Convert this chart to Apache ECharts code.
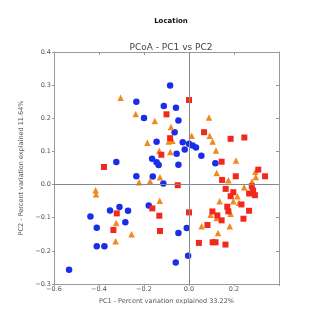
<!DOCTYPE html>
<html>
<head>
<meta charset="utf-8">
<script src="https://cdn.jsdelivr.net/npm/echarts@6/dist/echarts.min.js"></script>
<style>html,body{margin:0;padding:0;background:#fff}#c{width:317px;height:319px}</style>
</head>
<body>
<div id="c"></div>
<script>
const xTicks = [-0.6, -0.4, -0.2, 0.0, 0.2, 0.4];
const yTicks = [-0.3, -0.2, -0.1, 0.0, 0.1, 0.2, 0.3, 0.4];

const bluePoints = [
  [-0.084, 0.299], [-0.234, 0.250], [-0.112, 0.237], [-0.058, 0.232], [-0.200, 0.201],
  [-0.047, 0.193], [-0.064, 0.158], [-0.144, 0.129], [-0.028, 0.128], [-0.055, 0.093],
  [-0.164, 0.078], [-0.144, 0.067], [-0.135, 0.059], [-0.323, 0.068], [-0.047, 0.060],
  [-0.234, 0.025], [-0.161, 0.024], [-0.114, 0.003], [-0.019, 0.106], [0.000, 0.123],
  [0.016, 0.118], [0.031, 0.112], [0.055, 0.087], [0.117, 0.064], [-0.438, -0.096],
  [-0.351, -0.078], [-0.309, -0.068], [-0.271, -0.079], [-0.283, -0.114], [-0.410, -0.130],
  [-0.410, -0.186], [-0.376, -0.186], [-0.533, -0.257], [-0.179, -0.063], [-0.047, -0.146],
  [-0.059, -0.235], [-0.010, -0.131], [-0.004, -0.215]
];

const redPoints = [
  [-0.100, 0.212], [-0.084, 0.140], [-0.123, 0.090], [-0.378, 0.053], [-0.050, -0.002],
  [0.000, 0.255], [0.067, 0.158], [0.185, 0.138], [0.246, 0.142], [0.145, 0.069],
  [0.147, 0.014], [0.208, 0.025], [0.308, 0.045], [0.338, 0.025], [0.279, -0.005],
  [0.163, -0.013], [0.197, -0.023], [0.285, -0.018], [0.267, -0.027], [0.293, -0.032],
  [0.185, -0.035], [0.233, -0.060], [0.170, -0.067], [0.175, -0.081], [0.000, -0.084],
  [0.104, -0.081], [0.126, -0.093], [0.145, -0.108], [0.267, -0.079], [0.242, -0.103],
  [0.082, -0.122], [0.044, -0.176], [0.105, -0.174], [0.118, -0.174], [0.162, -0.181],
  [-0.321, -0.087], [-0.336, -0.137], [-0.163, -0.072], [-0.132, -0.094], [-0.129, -0.140]
];

const orangePoints = [
  [-0.304, 0.262], [-0.237, 0.213], [-0.152, 0.192], [-0.080, 0.174], [-0.185, 0.126],
  [-0.090, 0.130], [-0.074, 0.132], [-0.132, 0.102], [-0.083, 0.098], [-0.129, 0.022],
  [-0.222, 0.007], [-0.173, 0.010], [-0.415, -0.017], [-0.413, -0.029], [-0.130, -0.049],
  [-0.324, -0.116], [-0.255, -0.150], [-0.326, -0.171], [0.089, 0.202], [0.012, 0.147],
  [0.092, 0.147], [0.105, 0.130], [0.120, 0.103], [0.209, 0.073], [0.123, 0.035],
  [0.175, 0.013], [0.295, 0.039], [0.297, 0.023], [0.280, 0.009], [0.245, -0.008],
  [0.215, -0.035], [0.222, -0.055], [0.197, -0.050], [0.136, -0.050], [0.185, -0.088],
  [0.096, -0.091], [0.123, -0.101], [0.056, -0.126], [0.181, -0.126], [0.129, -0.146]
];

const FONT = 'DejaVu Sans';
function fmt(v) {
  const s = Math.abs(v).toFixed(1);
  return v < -1e-9 ? '\u2212' + s : s;
}
const xMin = xTicks[0], xMax = xTicks[xTicks.length - 1];
const yMin = yTicks[0], yMax = yTicks[yTicks.length - 1];

const chart = echarts.init(document.getElementById('c'), null, {renderer: 'canvas'});
chart.setOption({
  animation: false,
  backgroundColor: '#fff',
  title: [
    {text: 'Location', left: 166, top: 13, textAlign: 'center',
     textStyle: {fontFamily: FONT, fontSize: 7, fontWeight: 'bold', color: '#111'}},
    {text: 'PCoA - PC1 vs PC2', left: 166, top: 38, textAlign: 'center',
     textStyle: {fontFamily: FONT, fontSize: 9, fontWeight: 'normal', color: '#444'}}
  ],
  grid: {left: 54, right: 38, top: 52, bottom: 35, containLabel: false},
  xAxis: [
    {type: 'value', min: xMin, max: xMax, interval: 0.2, position: 'bottom',
     name: 'PC1 - Percent variation explained 33.22%', nameLocation: 'middle', nameGap: 12,
     nameTextStyle: {fontFamily: FONT, fontSize: 6.5, color: '#555'},
     axisLine: {show: true, onZero: false, lineStyle: {color: '#999', width: 1}},
     axisTick: {show: true, inside: false, length: 2, lineStyle: {color: '#999'}},
     axisLabel: {fontFamily: FONT, fontSize: 6.5, color: '#555', margin: 2,
       formatter: v => (Math.abs(v - xMax) < 1e-9 ? '' : fmt(v))},
     splitLine: {show: false}},
    {type: 'value', min: xMin, max: xMax, interval: 0.2, position: 'top',
     axisLine: {show: true, onZero: false, lineStyle: {color: '#999', width: 1}},
     axisTick: {show: true, inside: true, length: 3, lineStyle: {color: '#999'}},
     axisLabel: {show: false}, splitLine: {show: false}}
  ],
  yAxis: [
    {type: 'value', min: yMin, max: yMax, interval: 0.1, position: 'left',
     name: 'PC2 - Percent variation explained 11.64%', nameLocation: 'middle', nameGap: 28, nameRotate: 90,
     nameTextStyle: {fontFamily: FONT, fontSize: 6.5, color: '#555'},
     axisLine: {show: true, onZero: false, lineStyle: {color: '#999', width: 1}},
     axisTick: {show: true, inside: false, length: 2, lineStyle: {color: '#999'}},
     axisLabel: {fontFamily: FONT, fontSize: 6.5, color: '#555', margin: 3, formatter: v => fmt(v)},
     splitLine: {show: false}},
    {type: 'value', min: yMin, max: yMax, interval: 0.1, position: 'right',
     axisLine: {show: true, onZero: false, lineStyle: {color: '#999', width: 1}},
     axisTick: {show: true, inside: true, length: 3, lineStyle: {color: '#999'}},
     axisLabel: {show: false}, splitLine: {show: false}}
  ],
  series: [
    {type: 'scatter', data: [], z: 1, silent: true,
     markLine: {silent: true, symbol: 'none', label: {show: false},
       lineStyle: {color: '#888', width: 1, type: 'solid'},
       data: [{xAxis: 0}, {yAxis: 0}]}},
    {type: 'scatter', name: 'A', data: bluePoints, symbol: 'circle', symbolSize: 6.5, z: 3,
     itemStyle: {color: '#1a2ee8', opacity: 1}},
    {type: 'scatter', name: 'B', data: orangePoints, symbol: 'triangle', symbolSize: 6.5, z: 3,
     itemStyle: {color: '#f08a20', opacity: 1}},
    {type: 'scatter', name: 'C', data: redPoints, symbol: 'rect', symbolSize: 6, z: 3,
     itemStyle: {color: '#f2281c', opacity: 1}}
  ]
});
</script>
</body>
</html>
